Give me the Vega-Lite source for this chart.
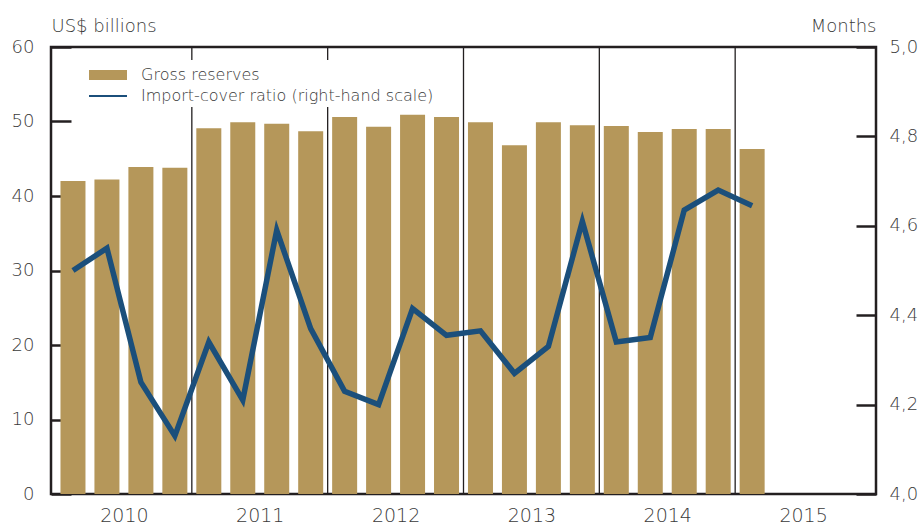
{
  "$schema": "https://vega.github.io/schema/vega-lite/v6.json",
  "width": 825,
  "height": 447,
  "autosize": {"type": "none"},
  "padding": {"left": 51, "top": 47, "right": 47, "bottom": 34},
  "config": {
    "view": {"stroke": "#231f20", "strokeWidth": 2.5},
    "font": "DejaVu Sans",
    "axis": {"labelFont": "DejaVu Sans", "titleFont": "DejaVu Sans", "labelColor": "#3a3a3a", "titleColor": "#3a3a3a", "titleFontWeight": 300, "labelFontWeight": 300, "grid": false, "domain": false}
  },
  "datasets": {
    "quarters": [
      {"quarter": "2010Q1", "t": 2010.125, "reserves": 42.0, "cover": 4.50},
      {"quarter": "2010Q2", "t": 2010.375, "reserves": 42.2, "cover": 4.55},
      {"quarter": "2010Q3", "t": 2010.625, "reserves": 43.9, "cover": 4.25},
      {"quarter": "2010Q4", "t": 2010.875, "reserves": 43.8, "cover": 4.13},
      {"quarter": "2011Q1", "t": 2011.125, "reserves": 49.1, "cover": 4.34},
      {"quarter": "2011Q2", "t": 2011.375, "reserves": 49.9, "cover": 4.21},
      {"quarter": "2011Q3", "t": 2011.625, "reserves": 49.7, "cover": 4.59},
      {"quarter": "2011Q4", "t": 2011.875, "reserves": 48.7, "cover": 4.37},
      {"quarter": "2012Q1", "t": 2012.125, "reserves": 50.6, "cover": 4.23},
      {"quarter": "2012Q2", "t": 2012.375, "reserves": 49.3, "cover": 4.20},
      {"quarter": "2012Q3", "t": 2012.625, "reserves": 50.9, "cover": 4.415},
      {"quarter": "2012Q4", "t": 2012.875, "reserves": 50.6, "cover": 4.355},
      {"quarter": "2013Q1", "t": 2013.125, "reserves": 49.9, "cover": 4.365},
      {"quarter": "2013Q2", "t": 2013.375, "reserves": 46.8, "cover": 4.27},
      {"quarter": "2013Q3", "t": 2013.625, "reserves": 49.9, "cover": 4.33},
      {"quarter": "2013Q4", "t": 2013.875, "reserves": 49.5, "cover": 4.61},
      {"quarter": "2014Q1", "t": 2014.125, "reserves": 49.4, "cover": 4.34},
      {"quarter": "2014Q2", "t": 2014.375, "reserves": 48.6, "cover": 4.35},
      {"quarter": "2014Q3", "t": 2014.625, "reserves": 49.0, "cover": 4.635},
      {"quarter": "2014Q4", "t": 2014.875, "reserves": 49.0, "cover": 4.68},
      {"quarter": "2015Q1", "t": 2015.125, "reserves": 46.3, "cover": 4.645}
    ],
    "years": [{"t": 2011}, {"t": 2012}, {"t": 2013}, {"t": 2014}, {"t": 2015}]
  },
  "layer": [
    {
      "data": {"name": "years"},
      "mark": {"type": "rule", "color": "#231f20", "strokeWidth": 1.3},
      "encoding": {
        "x": {
          "field": "t", "type": "quantitative",
          "scale": {"domain": [2010, 2016], "nice": false, "zero": false},
          "axis": {
            "values": [2010.5, 2011.5, 2012.5, 2013.5, 2014.5, 2015.5],
            "labelExpr": "floor(datum.value)",
            "ticks": false, "labelFontSize": 19, "labelPadding": 12,
            "labelFlush": false, "labelOverlap": false, "title": null
          }
        }
      }
    },
    {
      "data": {"name": "quarters"},
      "mark": {"type": "bar", "size": 25, "orient": "vertical"},
      "encoding": {
        "x": {"field": "t", "type": "quantitative"},
        "y": {
          "field": "reserves", "type": "quantitative",
          "scale": {"domain": [0, 60], "nice": false},
          "axis": {
            "values": [0, 10, 20, 30, 40, 50, 60],
            "offset": -20,
            "tickSize": 20, "tickWidth": 2.5, "tickColor": "#231f20",
            "labelFontSize": 18, "labelPadding": 17,
            "title": "US$ billions", "titleAngle": 0, "titleAlign": "left",
            "titleBaseline": "alphabetic", "titleX": -20, "titleY": -16, "titleFontSize": 18
          }
        },
        "color": {
          "datum": "Gross reserves",
          "scale": {"domain": ["Gross reserves", "Import-cover ratio (right-hand scale)"], "range": ["#B5975A", "#1B4F7B"]},
          "legend": {
            "orient": "none", "legendX": 42, "legendY": 13, "title": null,
            "labelFont": "DejaVu Sans", "labelFontSize": 16, "labelFontWeight": 300, "labelColor": "#3a3a3a",
            "labelLimit": 0,
            "symbolSize": 576, "labelOffset": 21, "rowPadding": 1, "padding": 3,
            "fillColor": "white",
            "encode": {
              "symbols": {
                "update": {
                  "shape": {"signal": "datum.value === 'Gross reserves' ? 'M-1.583,-0.417H1.583V0.417H-1.583Z' : 'M-1.583,-0.09H1.583V0.09H-1.583Z'"},
                  "fill": {"signal": "datum.value === 'Gross reserves' ? '#B5975A' : '#1B4F7B'"},
                  "stroke": {"value": "transparent"},
                  "strokeWidth": {"value": 0},
                  "opacity": {"value": 1}
                }
              }
            }
          }
        }
      }
    },
    {
      "data": {"name": "quarters"},
      "mark": {"type": "line", "strokeWidth": 5.5, "strokeJoin": "miter"},
      "encoding": {
        "x": {"field": "t", "type": "quantitative"},
        "y": {
          "field": "cover", "type": "quantitative",
          "scale": {"domain": [4, 5], "nice": false, "zero": false},
          "axis": {
            "orient": "right",
            "values": [4, 4.2, 4.4, 4.6, 4.8, 5],
            "labelExpr": "replace(format(datum.value, '.1f'), '.', ',')",
            "offset": -20,
            "tickSize": 20, "tickWidth": 2.5, "tickColor": "#231f20",
            "labelFontSize": 18, "labelPadding": 13,
            "title": "Months", "titleAngle": 0, "titleAlign": "right",
            "titleBaseline": "alphabetic", "titleX": 20, "titleY": -16, "titleFontSize": 18
          }
        },
        "color": {"datum": "Import-cover ratio (right-hand scale)"}
      }
    }
  ],
  "resolve": {"scale": {"y": "independent"}}
}
